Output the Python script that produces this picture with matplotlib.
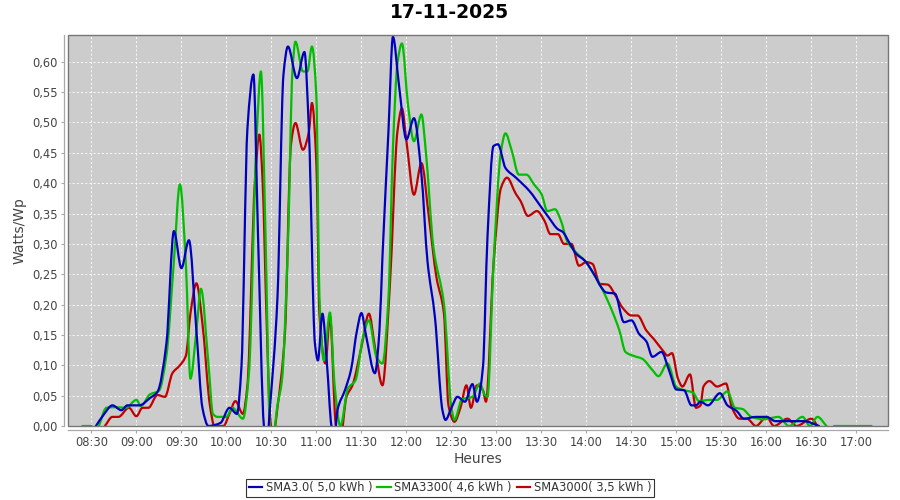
import numpy as np
import matplotlib
matplotlib.use('Agg')
import matplotlib.pyplot as plt
from matplotlib.path import Path
from matplotlib.patches import PathPatch, Rectangle
from matplotlib.lines import Line2D
from matplotlib.ticker import FuncFormatter, MultipleLocator

# ------------------------------------------------------------
# Data (W/Wp), key points per inverter
# ------------------------------------------------------------
title = '17-11-2025'
labels = ['SMA3.0( 5,0 kWh )', 'SMA3300( 4,6 kWh )', 'SMA3000( 3,5 kWh )']
colors = ['#0000C0', '#00BE00', '#C00000']

sma30_t = ['08:33', '08:38', '08:44', '08:50', '08:54', '09:02', '09:09', '09:14', '09:20', '09:25',
           '09:30', '09:35', '09:40', '09:44', '09:48', '09:56', '10:02', '10:07', '10:10', '10:14',
           '10:18', '10:21', '10:25', '10:27', '10:29', '10:34', '10:38', '10:41', '10:47', '10:52',
           '10:55', '10:59', '11:01', '11:04', '11:07', '11:10', '11:12', '11:14', '11:19', '11:23',
           '11:27', '11:30', '11:33', '11:39', '11:42', '11:44', '11:48', '11:51', '11:55', '12:00',
           '12:05', '12:10', '12:14', '12:19', '12:24', '12:26', '12:30', '12:34', '12:39', '12:44',
           '12:47', '12:51', '12:54', '12:58', '13:01', '13:06', '13:13', '13:22', '13:30', '13:35',
           '13:41', '13:44', '13:49', '13:53', '13:59', '14:05', '14:10', '14:13', '14:19', '14:25',
           '14:30', '14:35', '14:40', '14:44', '14:50', '14:55', '15:00', '15:05', '15:10', '15:13',
           '15:16', '15:21', '15:29', '15:34', '15:40', '15:45', '15:53', '16:00', '16:06', '16:25',
           '16:35']
sma30_v = [0.000, 0.018, 0.034, 0.026, 0.034, 0.034, 0.046, 0.056, 0.136, 0.321,
           0.260, 0.306, 0.157, 0.030, 0.000, 0.005, 0.030, 0.020, 0.097, 0.490,
           0.579, 0.320, 0.000, -0.030, 0.030, 0.210, 0.578, 0.625, 0.573, 0.616,
           0.485, 0.136, 0.108, 0.185, 0.103, 0.000, -0.020, 0.026, 0.059, 0.092,
           0.157, 0.186, 0.150, 0.087, 0.157, 0.278, 0.485, 0.641, 0.562, 0.472,
           0.507, 0.414, 0.272, 0.179, 0.026, 0.010, 0.030, 0.048, 0.040, 0.069,
           0.040, 0.097, 0.310, 0.461, 0.464, 0.425, 0.409, 0.387, 0.360, 0.343,
           0.324, 0.320, 0.300, 0.284, 0.272, 0.250, 0.228, 0.220, 0.218, 0.171,
           0.174, 0.152, 0.139, 0.114, 0.122, 0.092, 0.060, 0.059, 0.034, 0.034,
           0.040, 0.034, 0.054, 0.034, 0.025, 0.012, 0.015, 0.015, 0.008, 0.008,
           0.000]

sma3300_t = ['08:24', '08:30', None, '08:35', '08:40', '08:46', '08:53', '09:00', '09:03', '09:09',
             '09:15', '09:20', '09:25', '09:29', '09:33', '09:36', '09:40', '09:43', '09:48', '09:51',
             '09:54', '10:00', '10:04', '10:11', '10:15', '10:20', '10:23', '10:26', '10:29', '10:31',
             '10:34', '10:37', '10:41', '10:44', '10:46', '10:51', '10:54', '10:57', '11:00', '11:02',
             '11:05', '11:09', '11:12', '11:16', '11:21', '11:26', '11:31', '11:35', '11:40', '11:44',
             '11:48', '11:51', '11:54', '11:57', '12:01', '12:05', '12:10', '12:13', '12:18', '12:25',
             '12:30', '12:32', '12:37', '12:44', '12:49', '12:52', '12:54', '12:58', '13:03', '13:06',
             '13:10', '13:15', '13:20', '13:25', '13:30', '13:34', '13:39', '13:43', '13:47', '13:53',
             '13:59', '14:05', '14:11', '14:17', '14:22', '14:26', '14:32', '14:37', '14:44', '14:48',
             '14:54', '15:00', '15:05', '15:11', '15:15', '15:22', '15:27', '15:34', '15:39', '15:44',
             '15:50', '15:58', '16:08', '16:15', '16:24', '16:29', '16:34', '16:40', None, '16:45',
             '16:50', '16:55', '17:00', '17:05', '17:10']
sma3300_v = [0.000, 0.000, None, 0.000, 0.030, 0.031, 0.030, 0.043, 0.033, 0.052,
             0.058, 0.116, 0.272, 0.398, 0.265, 0.078, 0.157, 0.226, 0.103, 0.020,
             0.015, 0.015, 0.030, 0.012, 0.087, 0.469, 0.584, 0.320, 0.000, -0.020,
             0.034, 0.075, 0.300, 0.584, 0.633, 0.584, 0.584, 0.625, 0.540, 0.212,
             0.108, 0.187, 0.070, 0.000, 0.062, 0.075, 0.146, 0.174, 0.114, 0.103,
             0.210, 0.458, 0.597, 0.630, 0.530, 0.469, 0.513, 0.450, 0.294, 0.201,
             0.030, 0.010, 0.044, 0.048, 0.070, 0.052, 0.048, 0.265, 0.452, 0.482,
             0.455, 0.414, 0.414, 0.398, 0.382, 0.354, 0.357, 0.338, 0.305, 0.286,
             0.272, 0.250, 0.223, 0.190, 0.157, 0.122, 0.115, 0.111, 0.092, 0.082,
             0.103, 0.064, 0.059, 0.055, 0.041, 0.043, 0.043, 0.057, 0.030, 0.028,
             0.015, 0.011, 0.015, 0.000, 0.015, 0.000, 0.015, 0.000, None, 0.000,
             0.000, 0.000, 0.000, 0.000, 0.000]

sma3000_t = ['08:39', '08:44', '08:48', '08:55', '09:00', '09:04', '09:08', '09:14', '09:19', '09:24',
             '09:29', '09:33', '09:36', '09:40', '09:44', '09:49', '09:52', '09:58', '10:02', '10:06',
             '10:11', '10:14', '10:19', '10:22', '10:24', '10:27', '10:29', '10:31', '10:34', '10:39',
             '10:43', '10:46', '10:51', '10:55', '10:57', '11:00', '11:02', '11:06', '11:09', '11:13',
             '11:16', '11:20', '11:24', '11:30', '11:35', '11:39', '11:44', '11:49', '11:54', '11:57',
             '12:00', '12:05', '12:10', '12:15', '12:20', '12:25', '12:28', '12:32', '12:36', '12:40',
             '12:43', '12:47', '12:51', '12:53', '12:58', '13:03', '13:07', '13:13', '13:16', '13:21',
             '13:27', '13:32', '13:36', '13:41', '13:45', '13:50', '13:55', '14:00', '14:04', '14:09',
             '14:14', '14:20', '14:24', '14:30', '14:34', '14:40', '14:45', '14:51', '14:54', '14:57',
             '15:01', '15:04', '15:09', '15:13', '15:16', '15:18', '15:22', '15:27', '15:33', '15:37',
             '15:42', '15:47', '15:53', '16:00', '16:05', '16:14', '16:20', '16:30', '16:34']
sma3000_v = [0.000, 0.015, 0.015, 0.030, 0.016, 0.030, 0.030, 0.051, 0.048, 0.087,
             0.100, 0.116, 0.185, 0.235, 0.169, 0.034, 0.000, 0.000, 0.020, 0.041,
             0.020, 0.067, 0.403, 0.480, 0.410, 0.157, 0.020, -0.020, 0.030, 0.152,
             0.463, 0.499, 0.455, 0.485, 0.532, 0.430, 0.185, 0.103, 0.180, 0.000,
             -0.020, 0.048, 0.067, 0.130, 0.185, 0.130, 0.067, 0.234, 0.485, 0.523,
             0.469, 0.381, 0.433, 0.343, 0.245, 0.185, 0.034, 0.007, 0.030, 0.067,
             0.030, 0.067, 0.059, 0.040, 0.265, 0.392, 0.409, 0.382, 0.371, 0.346,
             0.354, 0.338, 0.316, 0.316, 0.300, 0.300, 0.264, 0.270, 0.267, 0.234,
             0.233, 0.212, 0.195, 0.182, 0.182, 0.157, 0.143, 0.124, 0.116, 0.120,
             0.078, 0.065, 0.085, 0.030, 0.034, 0.065, 0.074, 0.065, 0.070, 0.030,
             0.012, 0.012, 0.000, 0.015, 0.000, 0.012, 0.000, 0.012, 0.000]


def to_min(s):
    h, m = s.split(':')
    return int(h) * 60 + int(m)


def pchip_slopes(x, y):
    h = np.diff(x)
    d = np.diff(y) / h
    m = np.zeros_like(y)
    m[0], m[-1] = d[0], d[-1]
    for k in range(1, len(y) - 1):
        if d[k - 1] * d[k] <= 0:
            m[k] = 0.0
        else:
            w1 = 2 * h[k] + h[k - 1]
            w2 = h[k] + 2 * h[k - 1]
            m[k] = (w1 + w2) / (w1 / d[k - 1] + w2 / d[k])
    return m


def spline_path(times, values):
    # split on gaps, then build a smooth bezier path through the points
    verts, codes = [], []
    chunks, cur = [], []
    for t, v in zip(times, values):
        if t is None:
            chunks.append(cur)
            cur = []
        else:
            cur.append((to_min(t), v))
    chunks.append(cur)
    for ch in chunks:
        x = np.array([c[0] for c in ch], float)
        y = np.array([c[1] for c in ch], float)
        verts.append((x[0], y[0]))
        codes.append(Path.MOVETO)
        if len(x) < 2:
            continue
        m = pchip_slopes(x, y)
        for i in range(len(x) - 1):
            h = x[i + 1] - x[i]
            verts += [(x[i] + h / 3, y[i] + m[i] * h / 3),
                      (x[i + 1] - h / 3, y[i + 1] - m[i + 1] * h / 3),
                      (x[i + 1], y[i + 1])]
            codes += [Path.CURVE4] * 3
    return Path(verts, codes)


fig = plt.figure(figsize=(9, 5), dpi=100)
ax = fig.add_axes([68 / 900, 74 / 500, 820 / 900, 391 / 500])
ax.set_facecolor('#CCCCCC')

series = [(sma30_t, sma30_v), (sma3300_t, sma3300_v), (sma3000_t, sma3000_v)]
# JFreeChart style: first series on top
for i in reversed(range(3)):
    t, v = series[i]
    ax.add_patch(PathPatch(spline_path(t, v), fill=False, edgecolor=colors[i],
                           lw=1.6, joinstyle='round', capstyle='round', zorder=3 + (2 - i)))

ax.set_xlim(494.4, 1041)
ax.set_ylim(0, 0.644)
ax.xaxis.set_major_locator(MultipleLocator(30))
ax.yaxis.set_major_locator(MultipleLocator(0.05))
ax.xaxis.set_major_formatter(FuncFormatter(lambda v, p: f'{int(v // 60):02d}:{int(v % 60):02d}'))
ax.yaxis.set_major_formatter(FuncFormatter(lambda v, p: f'{v:.2f}'.replace('.', ',')))
ax.grid(True, color='white', lw=0.6, ls=(0, (2.5, 2.5)))
ax.set_axisbelow(True)

for s in ['top', 'right']:
    ax.spines[s].set_visible(False)
for s in ['left', 'bottom']:
    ax.spines[s].set_position(('outward', 3))
    ax.spines[s].set_color('#A8A8A8')
    ax.spines[s].set_linewidth(0.9)
ax.add_patch(Rectangle((0, 0), 1, 1, transform=ax.transAxes, fill=False,
                       edgecolor='#777777', lw=1.0, clip_on=False, zorder=10))
ax.tick_params(axis='both', length=2.5, width=0.8, color='#A8A8A8',
               labelsize=8.3, labelcolor='#444444', pad=2)

ax.set_xlabel('Heures', fontsize=10, color='#444444', labelpad=2)
ax.set_ylabel('Watts/Wp', fontsize=10, color='#444444', labelpad=4)
fig.suptitle(title, fontsize=13.5, fontweight='bold', y=0.993)

handles = [Line2D([], [], color=c, lw=1.6) for c in colors]
leg = fig.legend(handles, labels, loc='center', bbox_to_anchor=(0.5, 0.024), ncol=3,
                 fontsize=8.3, frameon=True, fancybox=False, handlelength=1.2,
                 handletextpad=0.3, columnspacing=0.4, borderpad=0.25, borderaxespad=0)
leg.get_frame().set_edgecolor('black')
leg.get_frame().set_linewidth(0.8)
for txt in leg.get_texts():
    txt.set_color('#333333')

plt.savefig('out.png', dpi=100, facecolor='white')
plt.close()
